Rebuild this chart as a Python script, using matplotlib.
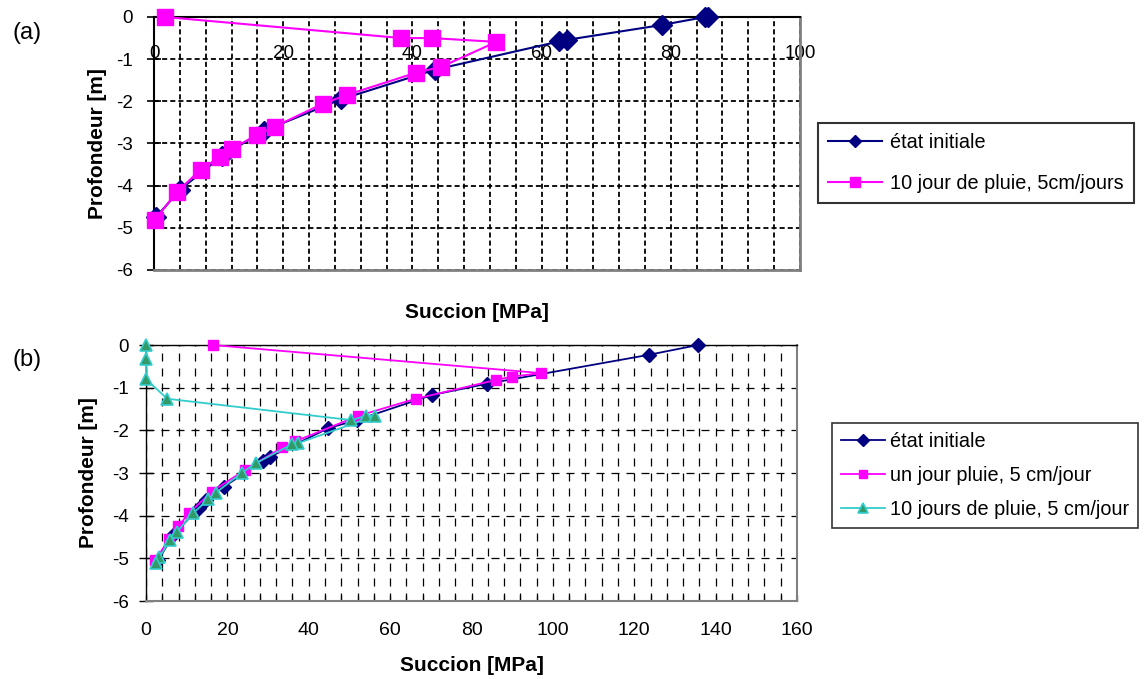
import matplotlib
matplotlib.use('Agg')
import matplotlib.pyplot as plt
from matplotlib.ticker import MultipleLocator
import matplotlib.font_manager as fm

# ---------------- data ----------------
# Panel (a)
a_init_x = [85.8, 85.3, 78.6, 64.0, 62.7, 43.5, 29.0, 17.0, 10.5, 4.0, 0.3]
a_init_y = [0.0, 0.0, -0.19, -0.54, -0.58, -1.25, -1.95, -2.70, -3.30, -4.10, -4.75]
a_rain_x = [1.7, 38.3, 43.0, 53.0, 44.5, 40.6, 29.8, 26.1, 18.7, 15.9, 12.0, 10.2, 7.2, 3.5, 0.15]
a_rain_y = [0.0, -0.50, -0.50, -0.59, -1.18, -1.32, -1.85, -2.06, -2.60, -2.80, -3.13, -3.32, -3.62, -4.16, -4.81]
a_labels = ['état initiale', '10 jour de pluie, 5cm/jours']

# Panel (b)
b_init_x = [135.7, 123.6, 83.7, 70.4, 51.8, 44.8, 30.5, 28.8, 19.2, 14.7, 13.0, 6.7, 3.0]
b_init_y = [0.0, -0.23, -0.91, -1.17, -1.76, -1.95, -2.62, -2.71, -3.32, -3.63, -3.82, -4.45, -5.05]
b_one_x = [16.4, 97.2, 90.0, 86.0, 66.3, 52.2, 36.6, 33.5, 24.3, 16.1, 10.6, 7.9, 5.7, 2.2]
b_one_y = [0.0, -0.66, -0.74, -0.82, -1.26, -1.66, -2.26, -2.40, -2.93, -3.44, -3.94, -4.25, -4.55, -5.05]
b_ten_x = [0.0, 0.0, 0.0, 5.2, 50.5, 54.0, 56.4, 37.4, 35.8, 27.0, 23.5, 17.2, 15.3, 11.6, 7.5, 5.9, 3.3, 2.5]
b_ten_y = [0.0, -0.32, -0.80, -1.26, -1.76, -1.66, -1.66, -2.30, -2.33, -2.77, -3.00, -3.46, -3.62, -3.94, -4.39, -4.57, -4.98, -5.10]
b_labels = ['état initiale', 'un jour pluie, 5 cm/jour', '10 jours de pluie, 5 cm/jour']

x_label = 'Succion [MPa]'
y_label = 'Profondeur [m]'

# ---------------- fonts ----------------
def has_font(name):
    try:
        fm.findfont(fm.FontProperties(family=name), fallback_to_default=False)
        return True
    except Exception:
        return False

BASE = 'Liberation Sans' if has_font('Liberation Sans') else 'DejaVu Sans'
NARROW = 'Liberation Sans Narrow' if has_font('Liberation Sans Narrow') else BASE
plt.rcParams['font.family'] = [BASE, 'DejaVu Sans']
plt.rcParams['axes.unicode_minus'] = False

NAVY = '#000080'
MAG = '#FF00FF'
TEAL = '#33CCCC'
TEAL_FACE = '#339966'
GRAY = '#808080'

W, H = 1145, 679
fig = plt.figure(figsize=(W / 100, H / 100), dpi=100)
fig.patch.set_facecolor('white')

# ---------------- panel (a) ----------------
axA = fig.add_axes([154 / W, 1 - 270 / H, 646 / W, 253 / H])
axA.set_axisbelow(True)
axA.plot(a_init_x, a_init_y, color=NAVY, marker='D', ms=10, lw=1.5,
         mfc=NAVY, mec=NAVY, label=a_labels[0], clip_on=False, zorder=3)
axA.plot(a_rain_x, a_rain_y, color=MAG, marker='s', ms=11, lw=1.5,
         mfc=MAG, mec=MAG, label=a_labels[1], clip_on=False, zorder=4)
axA.set_xlim(0, 100)
axA.set_ylim(-6, 0)
axA.xaxis.set_major_locator(MultipleLocator(20))
axA.xaxis.set_minor_locator(MultipleLocator(4))
axA.yaxis.set_major_locator(MultipleLocator(1))
axA.grid(which='both', axis='both', color='black', lw=1.3, linestyle=(0, (2.8, 1.7)))
axA.xaxis.tick_top()
axA.xaxis.set_label_position('bottom')
axA.tick_params(axis='x', which='both', length=0, labelsize=13.5, pad=-32.5)
axA.tick_params(axis='y', which='major', direction='inout', length=9.4, width=1.2,
                labelsize=13.5, pad=10.3)
for s in ('top', 'left'):
    axA.spines[s].set_color('black')
    axA.spines[s].set_linewidth(1.5)
for s in ('right', 'bottom'):
    axA.spines[s].set_color(GRAY)
    axA.spines[s].set_linewidth(2)
axA.set_xlabel(x_label, fontsize=15, fontweight='bold')
axA.xaxis.set_label_coords(0.5, -0.13)
axA.set_ylabel(y_label, fontsize=15, fontweight='bold')
axA.yaxis.set_label_coords(-0.073, 0.5)
legA = axA.legend(loc='upper left', bbox_to_anchor=(818 / W, 1 - 123 / H),
                  bbox_transform=fig.transFigure, fontsize=14.3, frameon=True,
                  fancybox=False, edgecolor='black', handlelength=2.7,
                  handletextpad=0.45, labelspacing=1.1, borderpad=0.5,
                  borderaxespad=0, markerscale=0.6)
legA.get_frame().set_linewidth(1.5)

# ---------------- panel (b) ----------------
axB = fig.add_axes([146 / W, 1 - 601 / H, 651 / W, 256 / H])
axB.set_axisbelow(True)
axB.plot(b_init_x, b_init_y, color=NAVY, marker='D', ms=7, lw=1.3,
         mfc=NAVY, mec=NAVY, label=b_labels[0], clip_on=False, zorder=3)
axB.plot(b_one_x, b_one_y, color=MAG, marker='s', ms=7.5, lw=1.3,
         mfc=MAG, mec=MAG, label=b_labels[1], clip_on=False, zorder=4)
axB.plot(b_ten_x, b_ten_y, color=TEAL, marker='^', ms=8, lw=1.3,
         mfc=TEAL_FACE, mec=TEAL, mew=1.2, label=b_labels[2], clip_on=False, zorder=5)
axB.set_xlim(0, 160)
axB.set_ylim(-6, 0)
axB.xaxis.set_major_locator(MultipleLocator(20))
axB.xaxis.set_minor_locator(MultipleLocator(4))
axB.yaxis.set_major_locator(MultipleLocator(1))
axB.grid(which='both', axis='x', color='black', lw=0.9, linestyle=(0, (6.4, 5.6)))
axB.grid(which='major', axis='y', color='black', lw=0.9, linestyle=(0, (6.4, 5.6)))
axB.tick_params(axis='x', which='both', direction='in', length=4.3, width=0.9,
                labelsize=14, pad=15)
for lab in axB.get_xticklabels():
    lab.set_family([NARROW, BASE, 'DejaVu Sans'])
axB.tick_params(axis='y', which='major', direction='inout', length=10, width=1,
                labelsize=13.5, pad=7.2)
for s in ('top', 'left'):
    axB.spines[s].set_color('black')
    axB.spines[s].set_linewidth(1)
for s in ('right', 'bottom'):
    axB.spines[s].set_color(GRAY)
    axB.spines[s].set_linewidth(1.5)
axB.set_xlabel(x_label, fontsize=15, fontweight='bold', family=[NARROW, BASE, 'DejaVu Sans'])
axB.xaxis.set_label_coords(0.5, -0.215)
axB.set_ylabel(y_label, fontsize=15, fontweight='bold')
axB.yaxis.set_label_coords(-0.074, 0.5)
legB = axB.legend(loc='upper left', bbox_to_anchor=(832 / W, 1 - 423 / H),
                  bbox_transform=fig.transFigure, fontsize=14.3, frameon=True,
                  fancybox=False, edgecolor='black', handlelength=2.2,
                  handletextpad=0.25, labelspacing=0.75, borderpad=0.45,
                  borderaxespad=0, markerscale=0.85)
legB.get_frame().set_linewidth(1.2)

fig.text(27 / W, 1 - 33 / H, '(a)', fontsize=17, ha='center', va='center')
fig.text(27 / W, 1 - 360 / H, '(b)', fontsize=17, ha='center', va='center')

fig.savefig('out.png', dpi=100)
